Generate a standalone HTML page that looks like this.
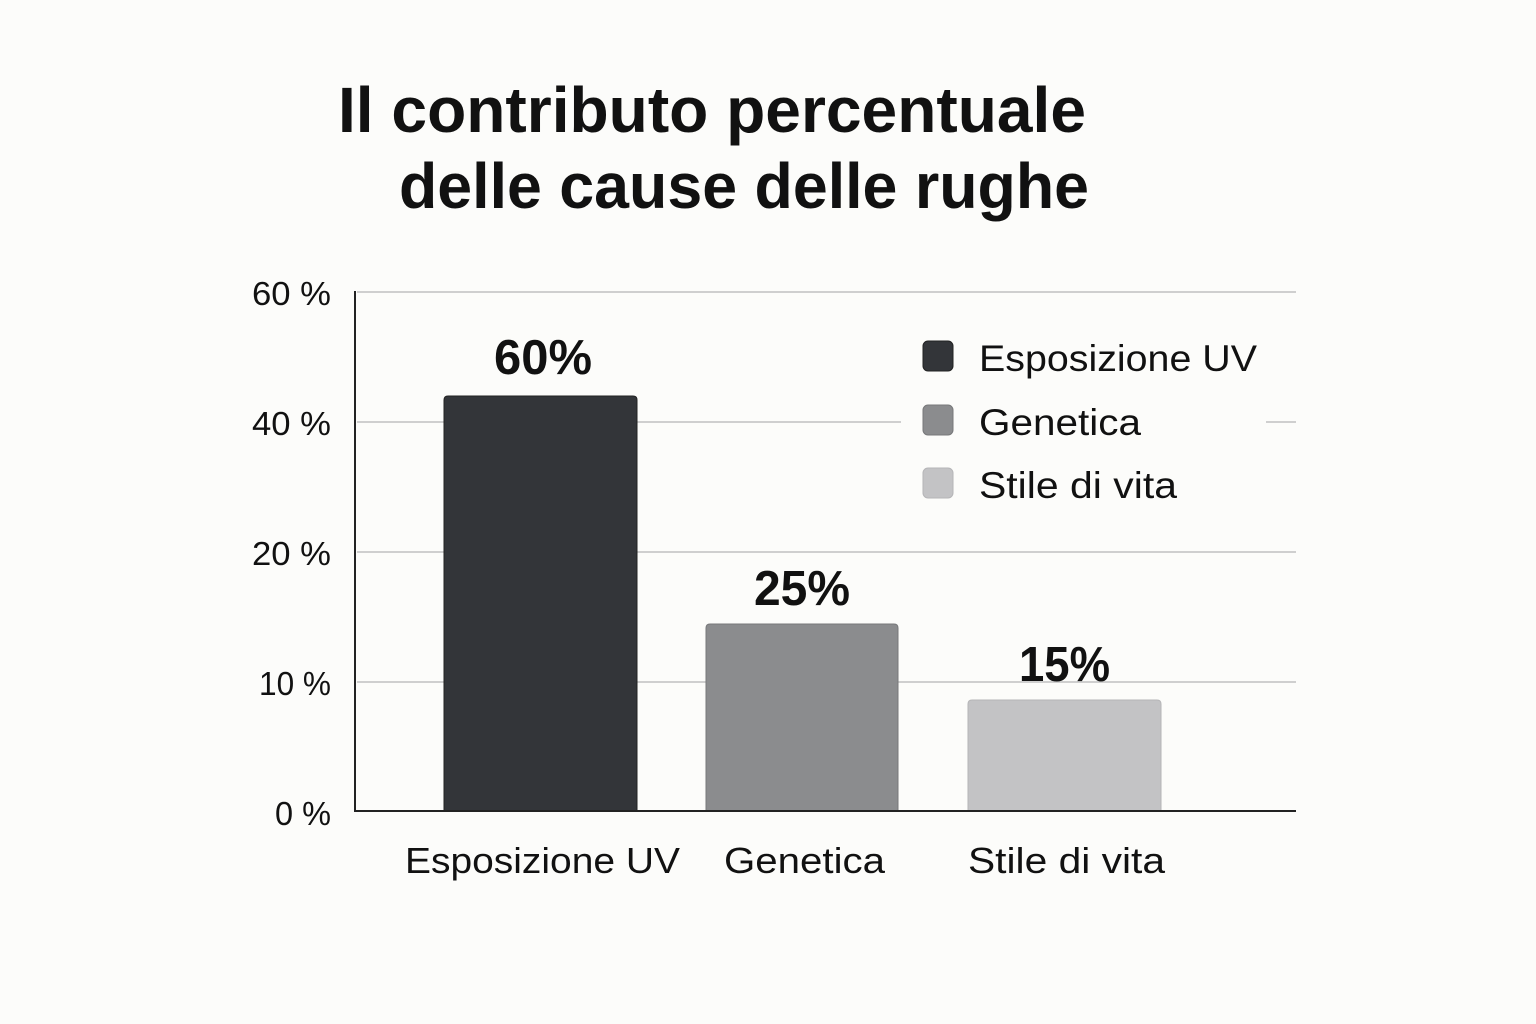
<!DOCTYPE html>
<html>
<head>
<meta charset="utf-8">
<style>
html,body{margin:0;padding:0;background:#fcfcfa;}
svg{display:block;}
text{font-family:"Liberation Sans",Arial,sans-serif;fill:#111;}
</style>
</head>
<body>
<svg width="1536" height="1024" viewBox="0 0 1536 1024" xmlns="http://www.w3.org/2000/svg">
<rect x="0" y="0" width="1536" height="1024" fill="#fcfcfa"/>
<!-- Title -->
<text x="338" y="132" font-size="64" font-weight="bold" textLength="748" lengthAdjust="spacingAndGlyphs">Il contributo percentuale</text>
<text x="399" y="208" font-size="64" font-weight="bold" textLength="690" lengthAdjust="spacingAndGlyphs">delle cause delle rughe</text>

<!-- gridlines -->
<g stroke="#cfcfcf" stroke-width="2">
<line x1="357" y1="292" x2="1296" y2="292"/>
<line x1="357" y1="422" x2="1296" y2="422"/>
<line x1="357" y1="552" x2="1296" y2="552"/>
<line x1="357" y1="682" x2="1296" y2="682"/>
</g>

<!-- y labels -->
<g font-size="33">
<text x="252" y="305" textLength="79" lengthAdjust="spacingAndGlyphs">60 %</text>
<text x="252" y="435" textLength="79" lengthAdjust="spacingAndGlyphs">40 %</text>
<text x="252" y="565" textLength="79" lengthAdjust="spacingAndGlyphs">20 %</text>
<text x="259" y="695" textLength="72" lengthAdjust="spacingAndGlyphs">10 %</text>
<text x="275" y="825" textLength="56" lengthAdjust="spacingAndGlyphs">0 %</text>
</g>

<!-- bars -->
<path d="M444 811 V400 Q444 396 448 396 H633 Q637 396 637 400 V811 Z" fill="#333539" stroke="#222" stroke-width="1"/>
<path d="M706 811 V628 Q706 624 710 624 H894 Q898 624 898 628 V811 Z" fill="#8b8c8e" stroke="#77787a" stroke-width="1"/>
<path d="M968 811 V704 Q968 700 972 700 H1157 Q1161 700 1161 704 V811 Z" fill="#c3c3c5" stroke="#b5b5b7" stroke-width="1"/>

<!-- axes -->
<line x1="355" y1="291" x2="355" y2="812" stroke="#222" stroke-width="2"/>
<line x1="354" y1="811" x2="1296" y2="811" stroke="#222" stroke-width="2"/>

<!-- bar value labels -->
<g font-size="49" font-weight="bold">
<text x="494" y="374" textLength="98" lengthAdjust="spacingAndGlyphs">60%</text>
<text x="754" y="605" textLength="96" lengthAdjust="spacingAndGlyphs">25%</text>
<text x="1019" y="681" textLength="91" lengthAdjust="spacingAndGlyphs">15%</text>
</g>

<!-- category labels -->
<g font-size="36">
<text x="405" y="873" textLength="275" lengthAdjust="spacingAndGlyphs">Esposizione UV</text>
<text x="724" y="873" textLength="161" lengthAdjust="spacingAndGlyphs">Genetica</text>
<text x="968" y="873" textLength="197" lengthAdjust="spacingAndGlyphs">Stile di vita</text>
</g>

<!-- legend -->
<rect x="901" y="325" width="365" height="190" fill="#fcfcfa"/>
<rect x="923" y="341" width="30" height="30" rx="5" fill="#333539" stroke="#222" stroke-width="1"/>
<rect x="923" y="405" width="30" height="30" rx="5" fill="#8b8c8e" stroke="#77787a" stroke-width="1"/>
<rect x="923" y="468" width="30" height="30" rx="5" fill="#c3c3c5" stroke="#b5b5b7" stroke-width="1"/>
<g font-size="37">
<text x="979" y="371" textLength="278" lengthAdjust="spacingAndGlyphs">Esposizione UV</text>
<text x="979" y="435" textLength="162" lengthAdjust="spacingAndGlyphs">Genetica</text>
<text x="979" y="498" textLength="198" lengthAdjust="spacingAndGlyphs">Stile di vita</text>
</g>
</svg>
</body>
</html>
